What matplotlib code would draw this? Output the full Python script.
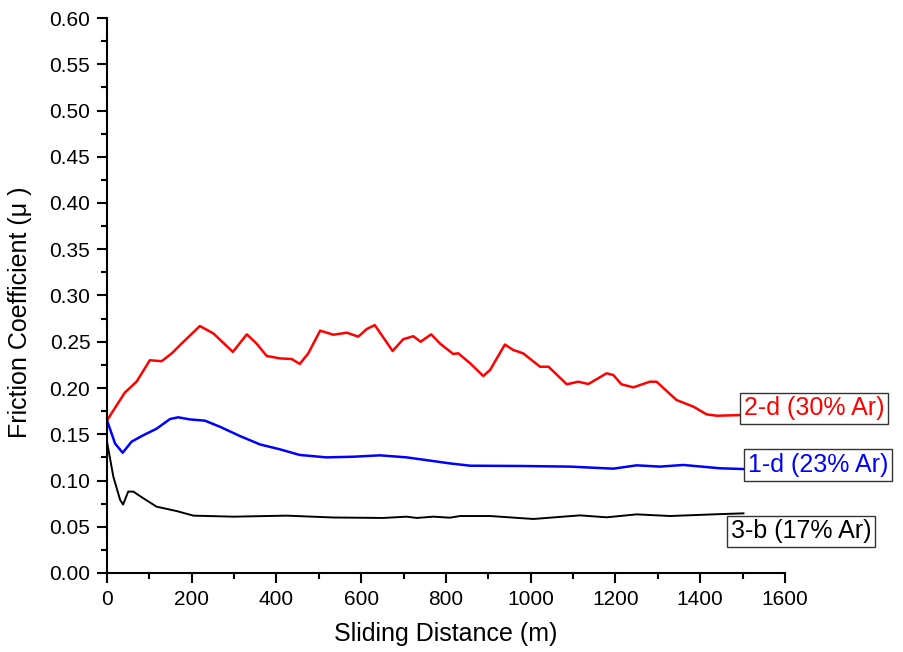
import numpy as np
import matplotlib
matplotlib.use('Agg')
import matplotlib.pyplot as plt
from matplotlib.ticker import MultipleLocator

plt.rcParams['font.family'] = ['Liberation Sans', 'DejaVu Sans']

# 2-d (30% Ar)
dist_red = [0, 42, 70, 101, 129, 153, 176, 219, 251, 297, 330, 353, 377, 408, 436, 455,
            475, 503, 534, 566, 593, 613, 632, 674, 699, 723, 740, 765, 786, 817, 829, 857,
            888, 904, 939, 959, 982, 1022, 1042, 1085, 1112, 1136, 1179, 1195, 1214, 1242,
            1281, 1297, 1344, 1384, 1415, 1439, 1500]
mu_red = [0.165, 0.195, 0.207, 0.230, 0.229, 0.2375, 0.248, 0.267, 0.259, 0.239, 0.258,
          0.248, 0.2346, 0.232, 0.2313, 0.226, 0.2375, 0.262, 0.2576, 0.2598, 0.2555, 0.2638,
          0.268, 0.240, 0.2527, 0.256, 0.250, 0.258, 0.248, 0.2368, 0.2375, 0.2267, 0.213,
          0.2195, 0.247, 0.241, 0.2375, 0.223, 0.223, 0.204, 0.2068, 0.2043, 0.2159, 0.214,
          0.204, 0.2007, 0.2068, 0.2068, 0.187, 0.1798, 0.1715, 0.170, 0.1708]

# 1-d (23% Ar)
dist_blue = [0, 19, 37, 58, 86, 117, 149, 168, 196, 231, 267, 314, 361, 408, 455, 518,
             581, 644, 707, 770, 809, 857, 975, 1093, 1195, 1250, 1305, 1360, 1447, 1502]
mu_blue = [0.165, 0.140, 0.130, 0.142, 0.149, 0.156, 0.1665, 0.1683, 0.166, 0.1647, 0.158,
           0.148, 0.139, 0.1337, 0.1276, 0.125, 0.1257, 0.1272, 0.125, 0.121, 0.1185, 0.116,
           0.1157, 0.115, 0.1128, 0.1164, 0.115, 0.1168, 0.1132, 0.1124]

# 3-b (17% Ar)
dist_black = [0, 15, 31, 38, 50, 62, 86, 117, 164, 204, 298, 424, 534, 652, 707, 731, 770,
              809, 833, 904, 1006, 1116, 1179, 1250, 1329, 1431, 1502]
mu_black = [0.142, 0.104, 0.079, 0.074, 0.088, 0.088, 0.0807, 0.0717, 0.067, 0.062, 0.0609,
            0.062, 0.060, 0.0595, 0.0609, 0.0595, 0.0609, 0.0598, 0.0616, 0.0616, 0.0584,
            0.0623, 0.0602, 0.0634, 0.0616, 0.0634, 0.0645]

labels = ['2-d (30% Ar)', '1-d (23% Ar)', '3-b (17% Ar)']

fig = plt.figure(figsize=(9.04, 6.52), dpi=100)
ax = fig.add_axes([107 / 904, 1 - 573 / 652, 678 / 904, 555 / 652])

ax.plot(dist_black, mu_black, color='black', lw=1.4)
ax.plot(dist_blue, mu_blue, color='#0000ff', lw=1.8)
ax.plot(dist_red, mu_red, color='#ff0000', lw=1.8)

box = dict(boxstyle='square,pad=0.15', fc='white', ec='#333333', lw=1.0)
ax.text(1503, 0.178, labels[0], color='#ff0000', fontsize=18, va='center', ha='left',
        bbox=box, clip_on=False)
ax.text(1513, 0.1168, labels[1], color='#0000ff', fontsize=18, va='center', ha='left',
        bbox=box, clip_on=False)
ax.text(1473, 0.0449, labels[2], color='black', fontsize=18, va='center', ha='left',
        bbox=box, clip_on=False)

ax.set_xlim(0, 1600)
ax.set_ylim(0, 0.60)
ax.xaxis.set_major_locator(MultipleLocator(200))
ax.xaxis.set_minor_locator(MultipleLocator(100))
ax.yaxis.set_major_locator(MultipleLocator(0.05))
ax.yaxis.set_minor_locator(MultipleLocator(0.025))
ax.yaxis.set_major_formatter(plt.FormatStrFormatter('%.2f'))

ax.spines['top'].set_visible(False)
ax.spines['right'].set_visible(False)
ax.spines['left'].set_linewidth(1.5)
ax.spines['bottom'].set_linewidth(1.5)
ax.tick_params(which='major', direction='out', length=7, width=1.5, labelsize=15, pad=5)
ax.tick_params(which='minor', direction='out', length=4, width=1.5)

ax.set_xlabel('Sliding Distance (m)', fontsize=18)
ax.set_ylabel('Friction Coefficient (\u03bc )', fontsize=18)
ax.xaxis.set_label_coords(0.5, -0.088)
ax.yaxis.set_label_coords(-0.11, 0.47)

fig.savefig('out.png', dpi=100)
